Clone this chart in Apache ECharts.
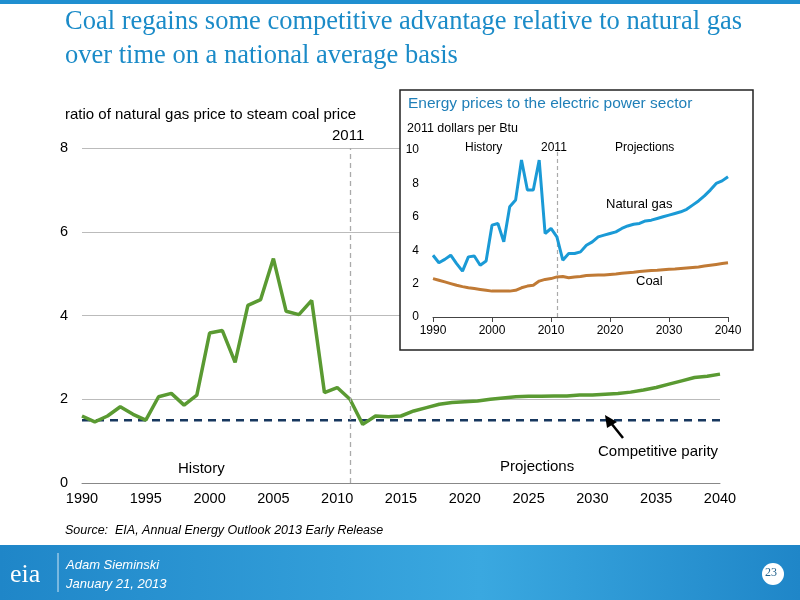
<!DOCTYPE html>
<html><head><meta charset="utf-8">
<script src="https://cdn.jsdelivr.net/npm/echarts@6/dist/echarts.min.js"></script>
<style>html,body{margin:0;padding:0;background:#fff}#c{width:800px;height:600px}</style>
</head><body><div id="c"></div>
<script>
const years = [];
for (let y = 1990; y <= 2040; y++) years.push(y);
const ratio = [1.6,1.46,1.6,1.82,1.64,1.5,2.06,2.14,1.86,2.1,3.58,3.64,2.88,4.24,4.38,5.36,4.1,4.02,4.36,2.16,2.28,2.0,1.4,1.6,1.58,1.6,1.72,1.8,1.88,1.92,1.94,1.96,2.0,2.03,2.06,2.07,2.07,2.08,2.08,2.1,2.1,2.12,2.14,2.17,2.22,2.28,2.36,2.44,2.52,2.55,2.6];
const gasPrice = [3.7,3.25,3.45,3.7,3.2,2.75,3.6,3.65,3.1,3.35,5.5,5.6,4.5,6.6,7.0,9.4,7.6,7.6,9.4,5.0,5.3,4.8,3.4,3.8,3.8,3.9,4.3,4.5,4.8,4.9,5.0,5.1,5.3,5.45,5.55,5.6,5.75,5.8,5.9,6.0,6.1,6.2,6.3,6.45,6.7,6.95,7.25,7.6,8.0,8.15,8.4];
const coalPrice = [2.3,2.2,2.1,2.0,1.9,1.82,1.75,1.7,1.65,1.6,1.55,1.55,1.55,1.55,1.6,1.75,1.85,1.9,2.15,2.25,2.3,2.4,2.42,2.35,2.4,2.42,2.48,2.5,2.52,2.52,2.55,2.58,2.62,2.65,2.68,2.72,2.75,2.78,2.8,2.83,2.86,2.88,2.91,2.94,2.97,3.0,3.05,3.1,3.15,3.2,3.25];
const parity = [1.5,1.5];
const mainTicks = ['0','2','4','6','8'];

const pair = a => years.map((y,i)=>[y,a[i]]);
const chart = echarts.init(document.getElementById('c'));
const txt = (x,y,t,o) => Object.assign({type:'text',x:x,y:y,z:20,style:Object.assign({text:t,fill:'#000',font:'15px Arial'},o||{})});
chart.setOption({
  animation:false,
  grid:[
    {left:82,width:638,top:148,height:335},
    {left:433,width:295,top:150,height:167}
  ],
  xAxis:[
    {gridIndex:0,type:'value',min:1990,max:2040,interval:5,
     axisLine:{lineStyle:{color:'#888'}},axisTick:{show:false},
     axisLabel:{color:'#000',fontSize:14.5,fontFamily:'Arial',margin:8,formatter:v=>String(v)},splitLine:{show:false}},
    {gridIndex:1,type:'value',min:1990,max:2040,interval:10,z:10,
     axisLine:{lineStyle:{color:'#444'}},axisTick:{show:true,lineStyle:{color:'#444'}},
     axisLabel:{color:'#000',fontSize:12,fontFamily:'Arial',formatter:v=>String(v)},splitLine:{show:false}}
  ],
  yAxis:[
    {gridIndex:0,type:'value',min:0,max:8,interval:2,
     axisLine:{show:false},axisTick:{show:false},
     axisLabel:{color:'#000',fontSize:14.5,fontFamily:'Arial',margin:14,formatter:v=>mainTicks[v/2]},
     splitLine:{lineStyle:{color:'#bbb'}}},
    {gridIndex:1,type:'value',min:0,max:10,interval:2,z:10,
     axisLine:{show:false},axisTick:{show:false},
     axisLabel:{color:'#000',fontSize:12,fontFamily:'Arial',margin:14},splitLine:{show:false}}
  ],
  series:[
    {type:'line',xAxisIndex:0,yAxisIndex:0,data:[[1990,parity[0]],[2040,parity[1]]],symbol:'none',
     lineStyle:{color:'#17375e',width:2.5,type:[8,6]},z:2},
    {type:'line',xAxisIndex:0,yAxisIndex:0,data:pair(ratio),symbol:'none',
     lineStyle:{color:'#5a9a32',width:3.5},z:3,
     markLine:{symbol:'none',silent:true,label:{show:false},
       lineStyle:{color:'#aaa',type:[5,4],width:1.3},data:[{xAxis:2011}]}},
    {type:'line',xAxisIndex:1,yAxisIndex:1,data:pair(gasPrice),symbol:'none',
     lineStyle:{color:'#1a9ad6',width:3},z:12,
     markLine:{symbol:'none',silent:true,label:{show:false},
       lineStyle:{color:'#aaa',type:[4,3],width:1.2},data:[{xAxis:2011}]}},
    {type:'line',xAxisIndex:1,yAxisIndex:1,data:pair(coalPrice),symbol:'none',
     lineStyle:{color:'#c07a35',width:3},z:12}
  ],
  graphic:[
    {type:'rect',shape:{x:0,y:0,width:800,height:4},style:{fill:'#1f8fd0'},z:1},
    txt(65,9,'Coal regains some competitive advantage relative to natural gas',{fill:'#1b8bc8',font:'26.5px "Liberation Serif"'}),
    txt(65,43,'over time on a national average basis',{fill:'#1b8bc8',font:'26.5px "Liberation Serif"'}),
    txt(65,107,'ratio of natural gas price to steam coal price'),
    txt(332,128,'2011'),
    txt(178,461,'History'),
    txt(500,459,'Projections'),
    txt(598,444,'Competitive parity'),
    {type:'line',z:20,shape:{x1:623,y1:438,x2:611,y2:423},style:{stroke:'#000',lineWidth:2.5}},
    {type:'polygon',z:20,shape:{points:[[605,415],[617,422],[607,428]]},style:{fill:'#000'}},
    txt(65,524,'Source:  EIA, Annual Energy Outlook 2013 Early Release',{font:'italic 12.5px Arial'}),
    {type:'rect',z:4,shape:{x:400,y:90,width:353,height:260},style:{fill:'#fff',stroke:'#222',lineWidth:1.5}},
    txt(408,96,'Energy prices to the electric power sector',{fill:'#1f7fb8',font:'15.5px Arial'}),
    txt(407,122,'2011 dollars per Btu',{font:'12.5px Arial'}),
    txt(465,142,'History',{font:'12px Arial'}),
    txt(541,142,'2011',{font:'12px Arial'}),
    txt(615,142,'Projections',{font:'12px Arial'}),
    txt(606,198,'Natural gas',{font:'13px Arial'}),
    txt(636,275,'Coal',{font:'13px Arial'}),
    {type:'rect',z:1,shape:{x:0,y:545,width:800,height:55},
     style:{fill:new echarts.graphic.LinearGradient(0,0,1,0,[{offset:0,color:'#1f86c8'},{offset:0.6,color:'#3aa8e0'},{offset:1,color:'#1f86c8'}])}},
    txt(10,562,'eia',{fill:'#fff',font:'26px "Liberation Serif"'}),
    {type:'line',z:20,shape:{x1:58,y1:553,x2:58,y2:592},style:{stroke:'#cfe6f5',lineWidth:1}},
    txt(66,559,'Adam Sieminski',{fill:'#fff',font:'italic 13px Arial'}),
    txt(66,578,'January 21, 2013',{fill:'#fff',font:'italic 13px Arial'}),
    {type:'circle',z:20,shape:{cx:773,cy:574,r:11},style:{fill:'#fff'}},
    txt(765,567,'23',{fill:'#1f5f8a',font:'12px "Liberation Serif"'})
  ]
});
</script></body></html>
